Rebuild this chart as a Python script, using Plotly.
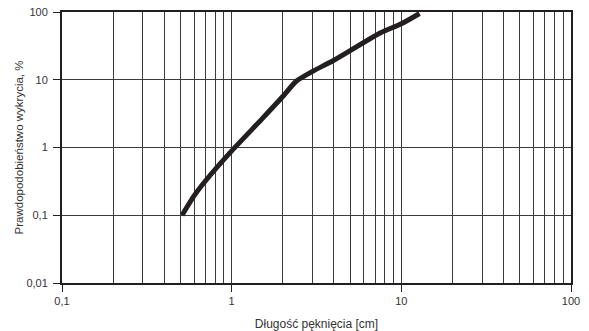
import plotly.graph_objects as go

crack_len = [0.51, 0.6, 0.7, 1.0, 1.5, 2.0, 2.4, 3.0, 4.0, 7.5, 10.0, 12.8]
prob = [0.1, 0.193, 0.32, 0.89, 2.6, 5.65, 9.5, 13.3, 19.4, 49.0, 67.0, 95.0]

x_major = [0.1, 1, 10, 100]
x_major_text = ["0,1", "1", "10", "100"]
y_major = [0.01, 0.1, 1, 10, 100]
y_major_text = ["0,01", "0,1", "1", "10", "100"]
x_minor = [m * d for d in (0.1, 1, 10) for m in range(2, 10)]

ink = "#231f20"
grid = "#3a3a3a"

fig = go.Figure()
fig.add_trace(go.Scatter(x=crack_len, y=prob, mode="lines",
                         line=dict(color=ink, width=5, shape="spline", smoothing=0.6),
                         showlegend=False, hoverinfo="skip"))

fig.update_layout(
    width=589, height=331,
    margin=dict(l=62, r=18, t=12, b=48, autoexpand=False),
    paper_bgcolor="white", plot_bgcolor="white",
    font=dict(family="Liberation Sans, Arial, sans-serif", size=11, color="#333"),
)
fig.update_xaxes(
    type="log", range=[-1, 2],
    tickmode="array", tickvals=x_major, ticktext=x_major_text,
    showgrid=True, gridcolor=grid, gridwidth=1,
    minor=dict(tickmode="array", tickvals=x_minor, showgrid=True, gridcolor=grid, gridwidth=1, ticks=""),
    showline=True, linecolor=ink, linewidth=2, mirror=True,
    ticks="outside", ticklen=7, tickcolor=ink, tickwidth=1,
    zeroline=False, automargin=False,
    title=dict(text="Długość pęknięcia [cm]", standoff=16, font=dict(size=12)),
)
fig.update_yaxes(
    type="log", range=[-2, 2],
    tickmode="array", tickvals=y_major, ticktext=y_major_text,
    showgrid=True, gridcolor=grid, gridwidth=1,
    showline=True, linecolor=ink, linewidth=2, mirror=True,
    ticks="outside", ticklen=7, tickcolor=ink, tickwidth=1,
    ticklabelstandoff=3,
    zeroline=False, automargin=False,
    title=dict(text="Prawdopodobieństwo wykrycia, %", standoff=0, font=dict(size=11.5)),
)

fig.write_html("out.html", config={"displayModeBar": False},
               post_script="document.body.style.margin='0';")
